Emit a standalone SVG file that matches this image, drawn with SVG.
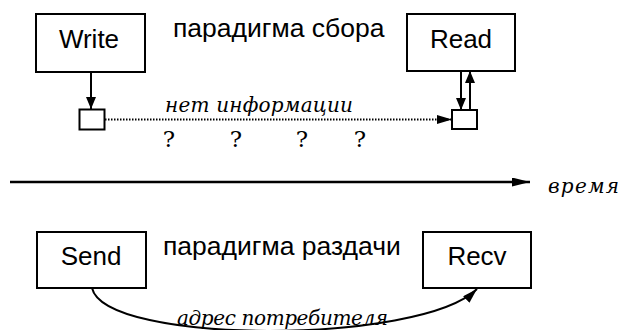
<svg xmlns="http://www.w3.org/2000/svg" width="621" height="330" viewBox="0 0 621 330">
<defs>
<style>
.box{fill:#fff;stroke:#000;stroke-width:2}
.lbl{font-family:"Liberation Sans",Arial,sans-serif;font-size:26px;fill:#000;text-anchor:middle}
.head{font-family:"Liberation Sans",Arial,sans-serif;font-size:26.5px;fill:#000}
.it{font-family:"DejaVu Serif",serif;font-style:italic;font-size:20px;fill:#000}
.q{font-family:"DejaVu Serif",serif;font-size:23px;fill:#000;text-anchor:middle}
.ln{fill:none;stroke:#000;stroke-width:2}
</style>
<marker id="ah" markerUnits="userSpaceOnUse" markerWidth="13" markerHeight="11" refX="12" refY="5" orient="auto">
<path d="M0,0 L12,5 L0,10 z" fill="#000"/>
</marker>
<marker id="ahM" markerUnits="userSpaceOnUse" markerWidth="16" markerHeight="10" refX="15" refY="4.5" orient="auto">
<path d="M0,0 L15,4.5 L0,9 z" fill="#000"/>
</marker>
<marker id="ahL" markerUnits="userSpaceOnUse" markerWidth="19" markerHeight="10" refX="18" refY="4.5" orient="auto">
<path d="M0,0 L18,4.5 L0,9 z" fill="#000"/>
</marker>
</defs>
<rect width="621" height="330" fill="#fff"/>
<g id="connectors">
<line class="ln" x1="91" y1="72" x2="91" y2="109" marker-end="url(#ah)"/>
<line class="ln" x1="461" y1="71" x2="461" y2="110" marker-end="url(#ah)"/>
<line class="ln" x1="470" y1="110" x2="470" y2="71" marker-end="url(#ah)"/>
<line x1="105" y1="119.5" x2="452" y2="119.5" stroke="#000" stroke-width="2" stroke-dasharray="1.5 1.5" marker-end="url(#ahM)"/>
<line x1="10" y1="182" x2="530" y2="182" stroke="#000" stroke-width="2.5" marker-end="url(#ahL)"/>
<path class="ln" d="M92,288 C105,345 420,345 477,289" marker-end="url(#ahM)"/>
</g>
<g id="write">
<rect class="box" x="36" y="14" width="109" height="58"/>
<text class="lbl" x="89" y="48">Write</text>
</g>
<g id="read">
<rect class="box" x="407" y="14" width="108" height="57"/>
<text class="lbl" x="461" y="48">Read</text>
</g>
<g id="wbuf">
<rect class="box" x="79.5" y="109.5" width="25" height="20"/>
</g>
<g id="rbuf">
<rect class="box" x="452" y="110" width="25" height="19"/>
</g>
<g id="send">
<rect class="box" x="37" y="232" width="109" height="56"/>
<text class="lbl" x="91" y="265">Send</text>
</g>
<g id="recv">
<rect class="box" x="423" y="232" width="108" height="56"/>
<text class="lbl" x="477" y="265">Recv</text>
</g>
<g id="labels">
<text class="head" x="173" y="37">парадигма сбора</text>
<text class="head" x="163" y="255">парадигма раздачи</text>
<text class="it" x="165" y="112" textLength="188" lengthAdjust="spacing">нет информации</text>
<text class="q" x="169" y="147">?</text>
<text class="q" x="236" y="147">?</text>
<text class="q" x="302" y="147">?</text>
<text class="q" x="360" y="147">?</text>
<text class="it" x="548" y="193" font-size="22" textLength="71" lengthAdjust="spacing">время</text>
<text class="it" x="177" y="325" textLength="211" lengthAdjust="spacing">адрес потребителя</text>
</g>
</svg>
